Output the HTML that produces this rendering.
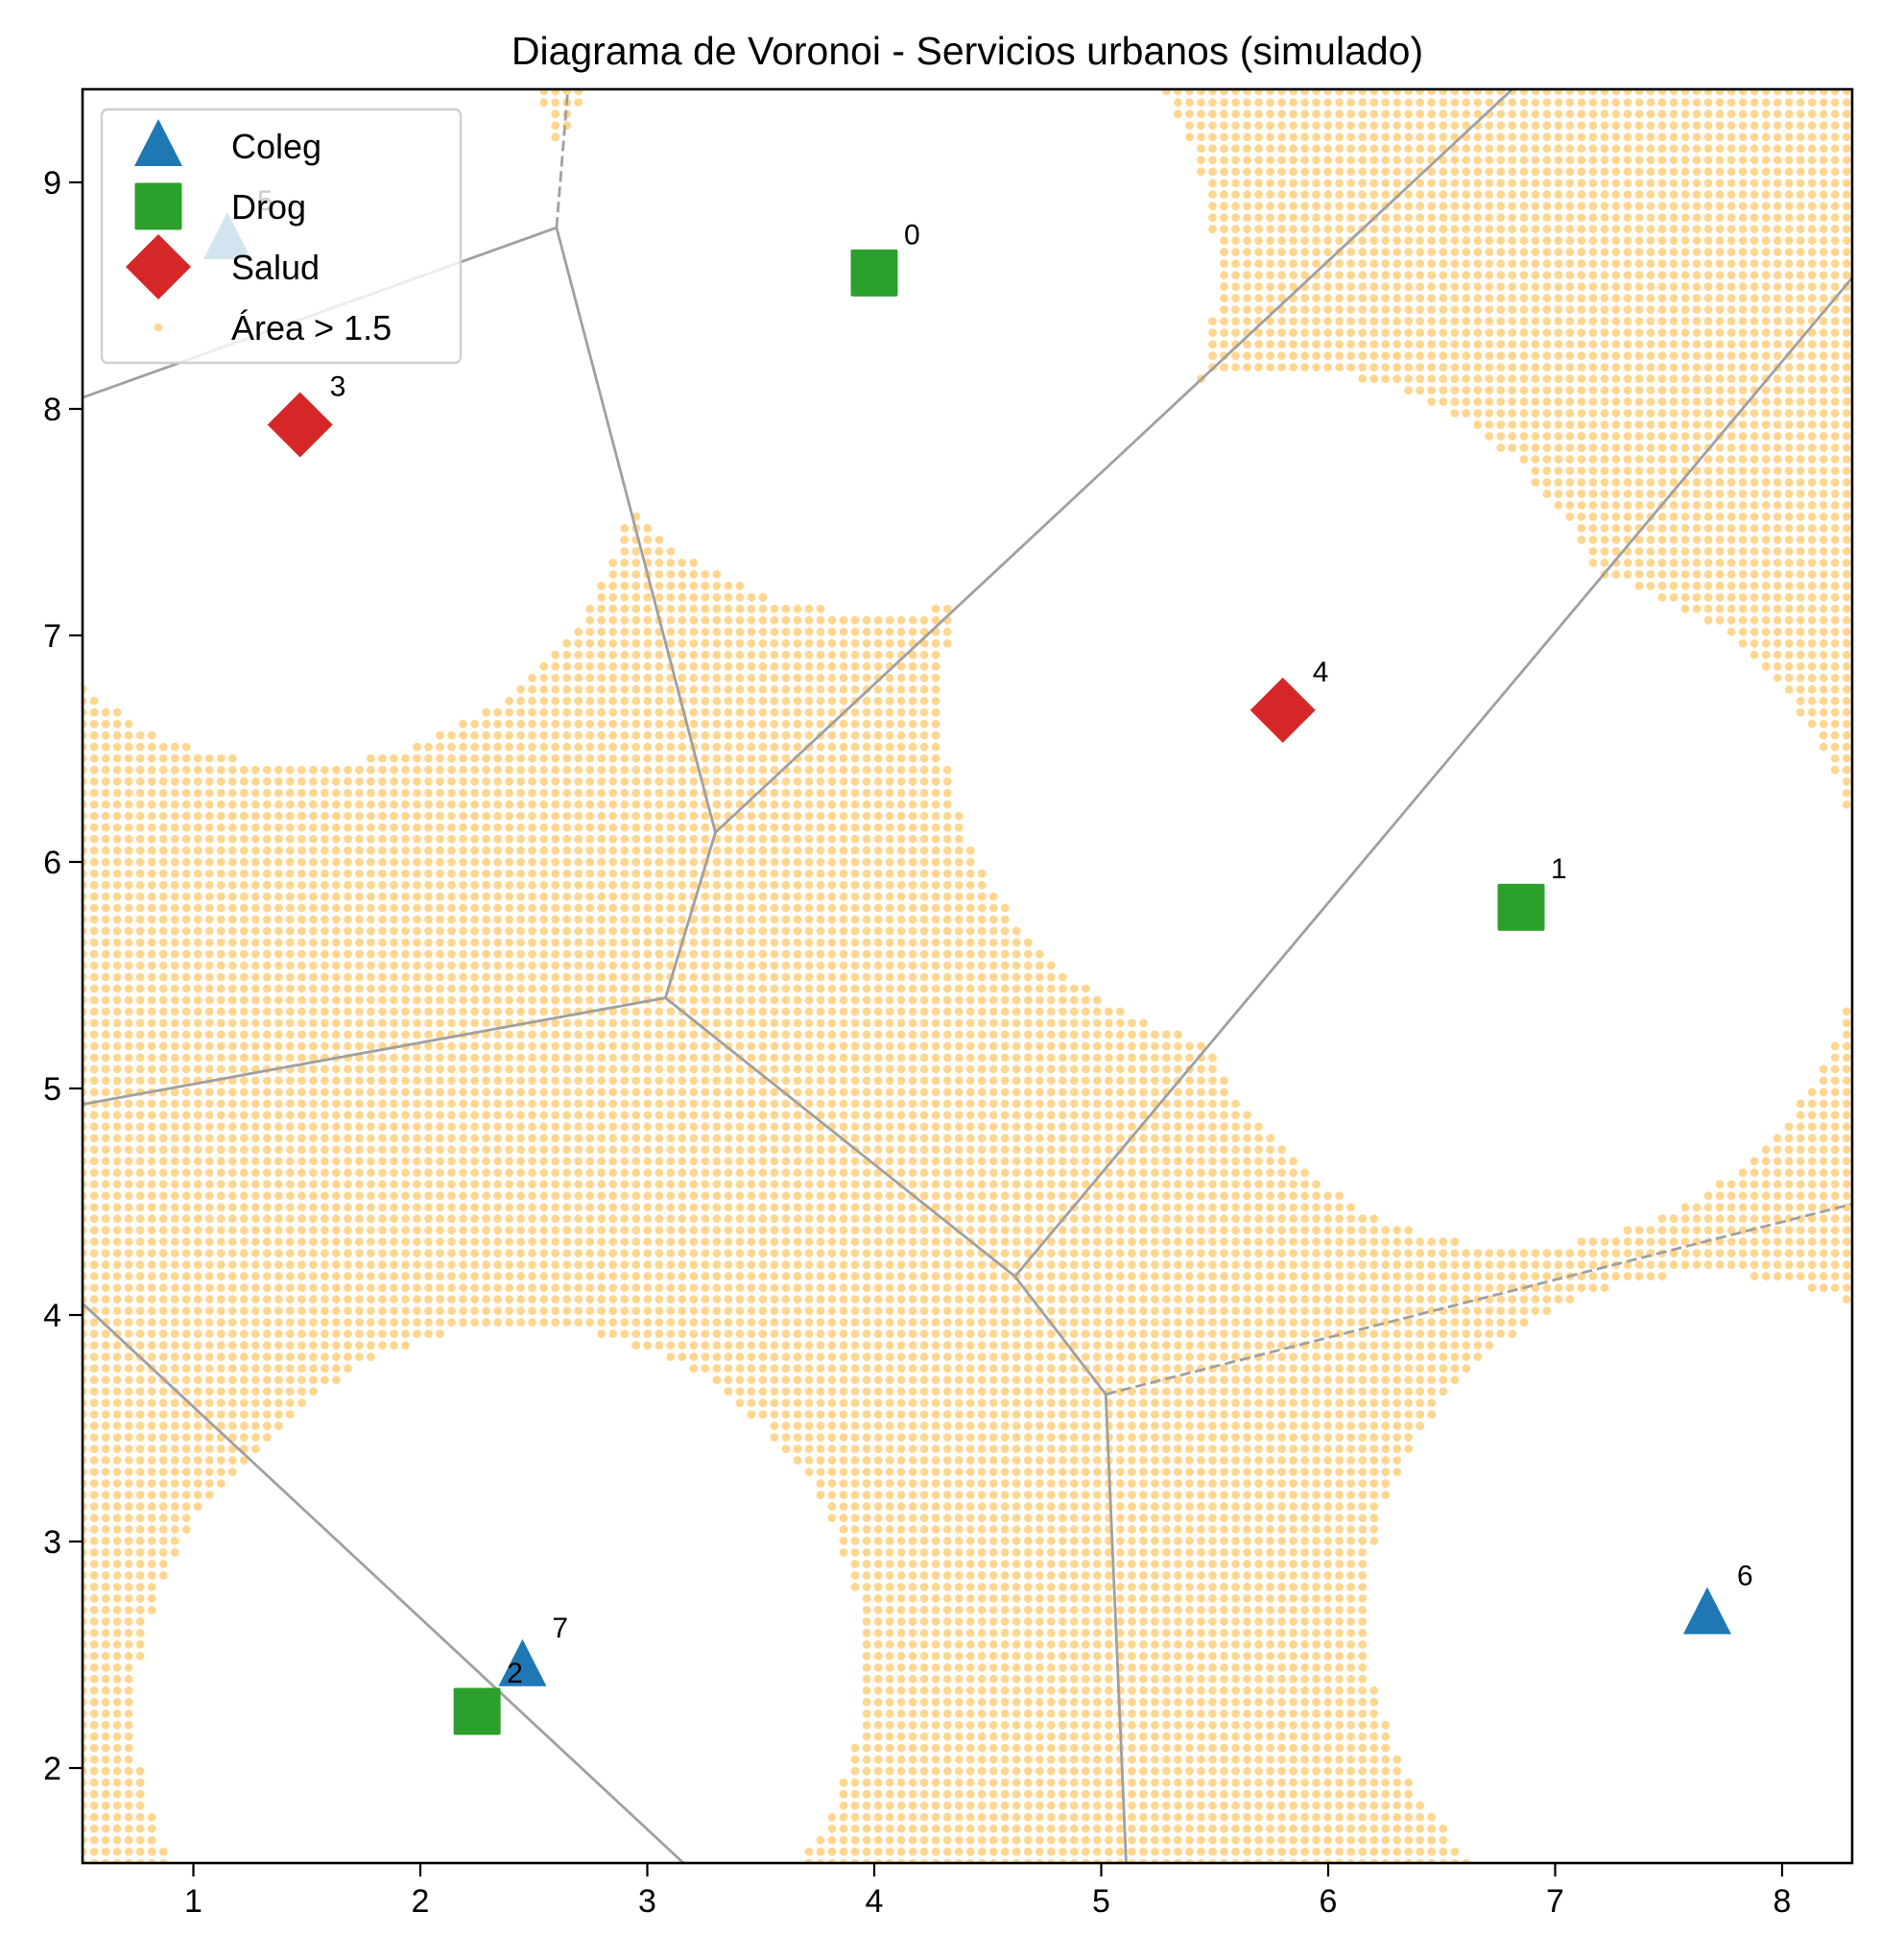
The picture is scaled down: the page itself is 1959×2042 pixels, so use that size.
<!DOCTYPE html>
<html><head><meta charset="utf-8"><style>
body{margin:0;background:#fff;}
svg{display:block;font-family:"Liberation Sans","DejaVu Sans",sans-serif;}
</style></head><body>
<svg id="chart" width="1959" height="2042" viewBox="0 0 1959 2042" xmlns="http://www.w3.org/2000/svg">
<rect width="1959" height="2042" fill="#fff"/>
<text x="1008" y="67" font-size="41" text-anchor="middle">Diagrama de Voronoi - Servicios urbanos (simulado)</text>
<defs><clipPath id="clip"><rect x="86" y="93" width="1844" height="1848"/></clipPath></defs>
<g id="dots" clip-path="url(#clip)"></g>
<g id="edges" clip-path="url(#clip)"></g>
<g id="marks"></g>
<g id="labels"></g>
<g id="axes"></g>
<g id="legend"></g>
</svg>
<script>
const pointIds = [0,1,2,3,4,5,6,7];
const pointX = [4.0, 6.85, 2.25, 1.47, 5.8, 1.15, 7.67, 2.45];
const pointY = [8.6, 5.8, 2.25, 7.93, 6.67, 8.75, 2.68, 2.45];
const pointType = ["Drog","Drog","Drog","Salud","Salud","Coleg","Coleg","Coleg"];
const edgeX1 = [0.512, 2.6, 2.6, 3.3, 3.3, 3.08, 3.08, 4.62, 4.62, 5.02, 5.02, 0.512];
const edgeY1 = [8.05, 8.8, 8.8, 6.13, 6.13, 5.4, 5.4, 4.17, 4.17, 3.65, 3.65, 4.05];
const edgeX2 = [2.6, 2.65, 3.3, 3.08, 6.81, 0.512, 4.62, 8.31, 5.02, 5.11, 8.31, 3.16];
const edgeY2 = [8.8, 9.41, 6.13, 5.4, 9.41, 4.93, 4.17, 8.58, 3.65, 1.58, 4.49, 1.58];
const edgeDashed = [0,1,0,0,0,0,0,0,0,0,1,0];
const xTicks = [1,2,3,4,5,6,7,8];
const yTicks = [2,3,4,5,6,7,8,9];
const threshold = 1.5;

const NS="http://www.w3.org/2000/svg";
const X0=86,X1=1930,Y0=93,Y1=1941;
const xmin=0.512,xmax=8.31,ymin=1.58,ymax=9.41;
const X=v=>201.5+(v-1)*236.5;
const Y=v=>426-(v-8)*236;
function mk(tag,attrs,parent){const e=document.createElementNS(NS,tag);for(const k in attrs)e.setAttribute(k,attrs[k]);parent.appendChild(e);return e;}

const dots=document.getElementById('dots');
const step=0.0508;
let html='';
for(let gx=xmin;gx<=xmax+1e-9;gx+=step){
  for(let gy=ymin;gy<=ymax+1e-9;gy+=step){
    let md=1e9;
    for(let i=0;i<pointX.length;i++){const d=Math.hypot(gx-pointX[i],gy-pointY[i]);if(d<md)md=d;}
    if(md>threshold) html+=`<circle cx="${X(gx).toFixed(1)}" cy="${Y(gy).toFixed(1)}" r="4.4"/>`;
  }
}
dots.innerHTML=html;
dots.setAttribute('fill','#ffd690');

const edges=document.getElementById('edges');
for(let i=0;i<edgeX1.length;i++){
  const l=mk('line',{x1:X(edgeX1[i]),y1:Y(edgeY1[i]),x2:X(edgeX2[i]),y2:Y(edgeY2[i]),stroke:'#a0a0a0','stroke-width':2.8},edges);
  if(edgeDashed[i]) l.setAttribute('stroke-dasharray','11 5');
  
  
}

const marks=document.getElementById('marks');
const labels=document.getElementById('labels');
function marker(type,cx,cy,parent){
  let e;
  if(type==='Coleg') e=mk('polygon',{points:`${cx},${cy-28} ${cx-25},${cy+21} ${cx+25},${cy+21}`,fill:'#1f77b4'},parent);
  else if(type==='Drog') e=mk('rect',{x:cx-24.5,y:cy-24.5,width:49,height:49,rx:2,fill:'#2ca02c'},parent);
  else e=mk('polygon',{points:`${cx},${cy-34} ${cx+34},${cy} ${cx},${cy+34} ${cx-34},${cy}`,fill:'#d62728'},parent);
  return e;
}
for(let i=0;i<pointX.length;i++){
  const cx=X(pointX[i]),cy=Y(pointY[i]);
  const m=marker(pointType[i],cx,cy,marks);
  
  
  const t=mk('text',{x:cx+31,y:cy-30,'font-size':30},labels);
  t.textContent=pointIds[i];
  
  
}

const axes=document.getElementById('axes');
mk('rect',{x:X0,y:Y0,width:X1-X0,height:Y1-Y0,fill:'none',stroke:'#000','stroke-width':2.6},axes);
for(const v of xTicks){
  mk('line',{x1:X(v),y1:Y1,x2:X(v),y2:Y1+14,stroke:'#000','stroke-width':2.2},axes);
  const t=mk('text',{x:X(v),y:Y1+51,'font-size':34,'text-anchor':'middle'},axes);
  t.textContent=v;
  
  
}
for(const v of yTicks){
  mk('line',{x1:X0,y1:Y(v),x2:X0-14,y2:Y(v),stroke:'#000','stroke-width':2.2},axes);
  const t=mk('text',{x:X0-22,y:Y(v)+12,'font-size':34,'text-anchor':'end'},axes);
  t.textContent=v;
  
  
}

const lg=document.getElementById('legend');
mk('rect',{x:106,y:114,width:374,height:264,rx:6,fill:'rgba(255,255,255,0.8)',stroke:'#d0d0d0','stroke-width':2.4},lg);
const legTypes=['Coleg','Drog','Salud'];
const legY=[152,215,278,341];
legTypes.forEach((tp,i)=>{
  const m=marker(tp,165,legY[i],lg);
  
  
  const t=mk('text',{x:241,y:legY[i]+13,'font-size':36},lg);
  t.textContent=tp;
  
  
});
const ld=mk('circle',{cx:165,cy:legY[3],r:4.4,fill:'#ffd690'},lg);


const lt=mk('text',{x:241,y:legY[3]+13,'font-size':36},lg);
lt.textContent='Área > 1.5';


</script>
</body></html>
